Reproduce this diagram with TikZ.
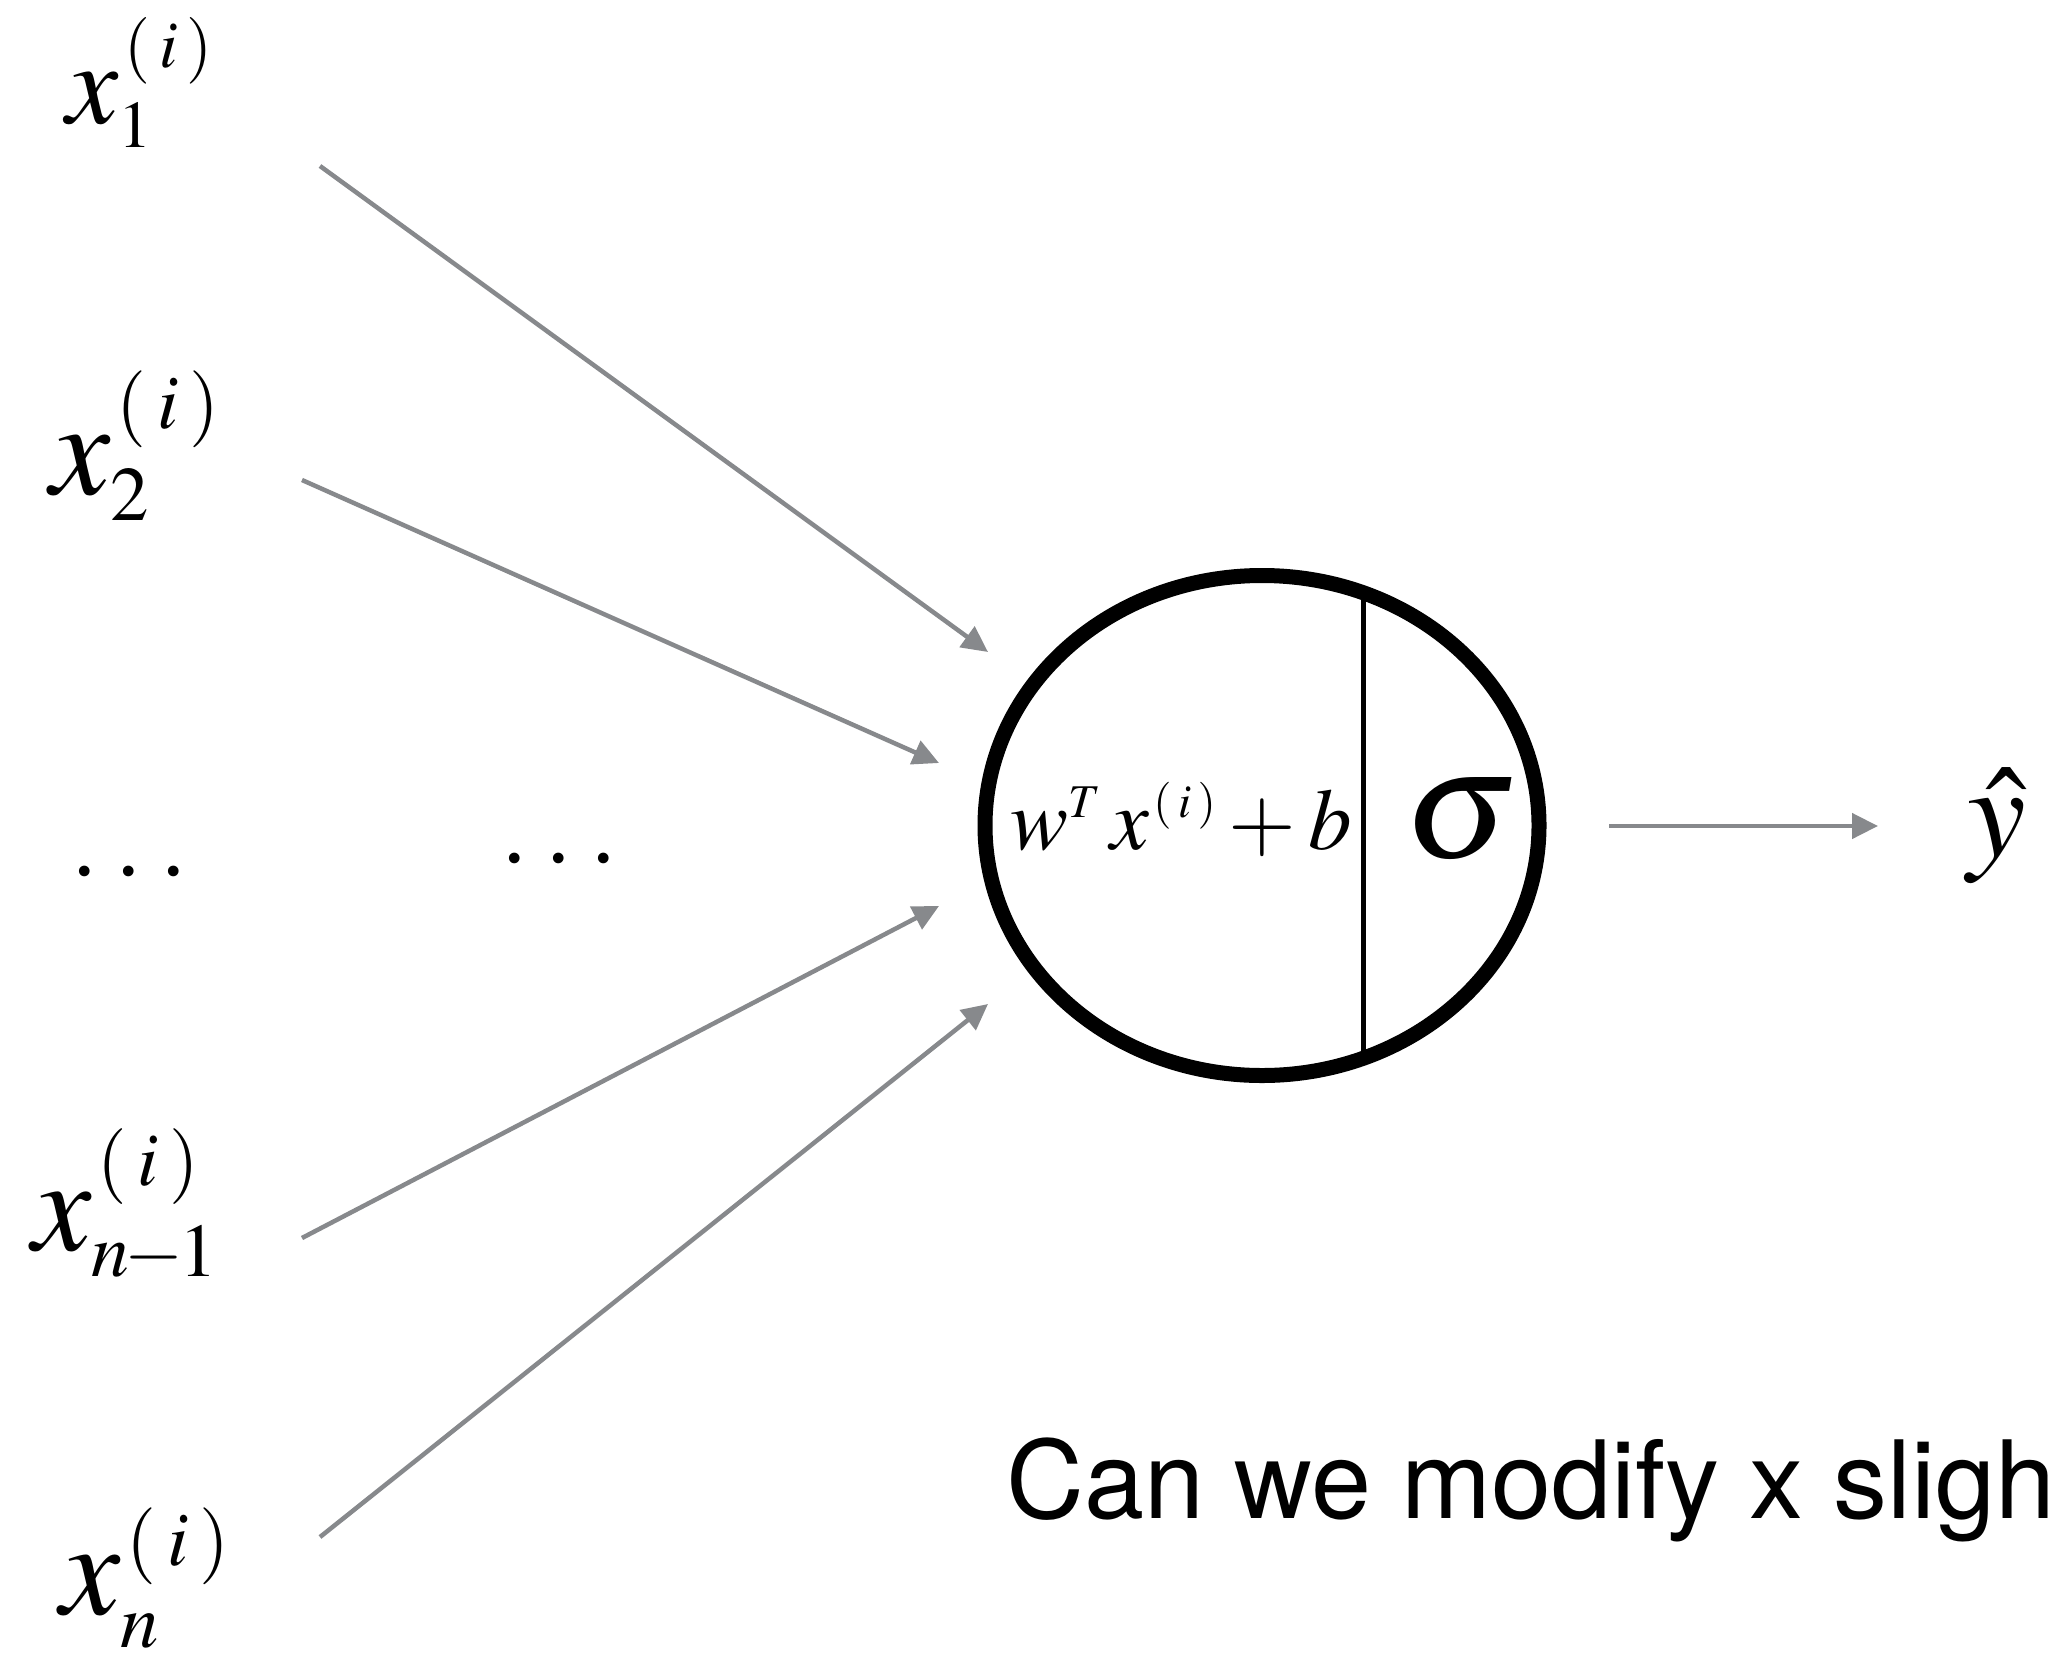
\documentclass[tikz,border=0pt]{standalone}
\usepackage{mathptmx}
\usepackage[no-math]{fontspec}
\newfontfamily\helv{TeX Gyre Heros}
\newfontfamily\tms{Liberation Serif}
\renewcommand\defaultscriptratio{.57}
\renewcommand\defaultscriptscriptratio{.45}
\DeclareMathSizes{87}{87}{47}{35}
\usetikzlibrary{arrows.meta,shapes.geometric}
\definecolor{arrowgray}{RGB}{135,137,140}
\tikzset{
  feed/.style={draw=arrowgray, line width=4.5pt, -{Triangle[length=26pt,width=25pt]}},
  lab/.style={inner sep=0pt, anchor=base west},
  dotrow/.style={inner sep=0pt, anchor=base west, font=\tms\fontsize{90}{90}\selectfont},
}
\newcommand\rowdots{.\kern22pt.\kern22pt.}
\newcommand\supi{\mkern1.5mu(\mkern2.5mu i\mkern2.5mu)}
\begin{document}
\begin{tikzpicture}[x=1pt,y=-1pt]
\useasboundingbox (0,0) rectangle (2049,1667);
\clip (0,0) rectangle (2049,1667);

% input labels
\node[lab, font=\fontsize{117}{120}\selectfont] (x1) at (66,124) {$x_{1}^{\supi}$};
\node[lab, font=\fontsize{135}{140}\selectfont] (x2) at (50,494) {$x_{2}^{\supi}$};
\node[lab, font=\fontsize{133}{140}\selectfont] (xn1) at (32,1250) {$x_{n\mkern-1mu-\mkern-1mu1}^{\supi}$};
\node[lab, font=\fontsize{135}{140}\selectfont] (xn) at (60,1614) {$x_{n}^{\supi}$};
\node[dotrow] (dotsL) at (73,875) {\rowdots};
\node[dotrow] (dotsR) at (503,862) {\rowdots};

% neuron
\node[draw, ellipse, line width=15pt, inner sep=0pt, minimum width=554pt, minimum height=500pt] (neuron) at (1262,825.5) {};
\coordinate (divtop) at (1363,592.7);
\coordinate (divbot) at (1363,1058.3);
\draw[line width=5pt] (divtop) -- (divbot);
\node[lab, font=\fontsize{87}{90}\selectfont] (lin) at (1010,849) {$w^{T}\,x^{\supi}+b$};
\node[lab, font=\fontsize{160}{160}\selectfont] (sig) at (1404,857) {$\sigma$};

% output
\node[lab, font=\fontsize{132}{135}\selectfont] (yhat) at (1967,856) {$\hat{y}$};

% connectors
\coordinate (s1) at (320,166);   \coordinate (t1) at (988,652);
\coordinate (s2) at (302,480);   \coordinate (t2) at (939,763);
\coordinate (s3) at (302,1238);  \coordinate (t3) at (939,906);
\coordinate (s4) at (320,1537);  \coordinate (t4) at (988,1004);
\coordinate (so) at (1609,826);  \coordinate (to) at (1878,826);
\draw[feed] (s1) -- (t1);
\draw[feed] (s2) -- (t2);
\draw[feed] (s3) -- (t3);
\draw[feed] (s4) -- (t4);
\draw[feed] (so) -- (to);

% question
\node[lab, font=\helv\fontsize{108}{110}\selectfont] (q) at (1006,1518) {Can we modify x sligh};
\end{tikzpicture}
\end{document}
